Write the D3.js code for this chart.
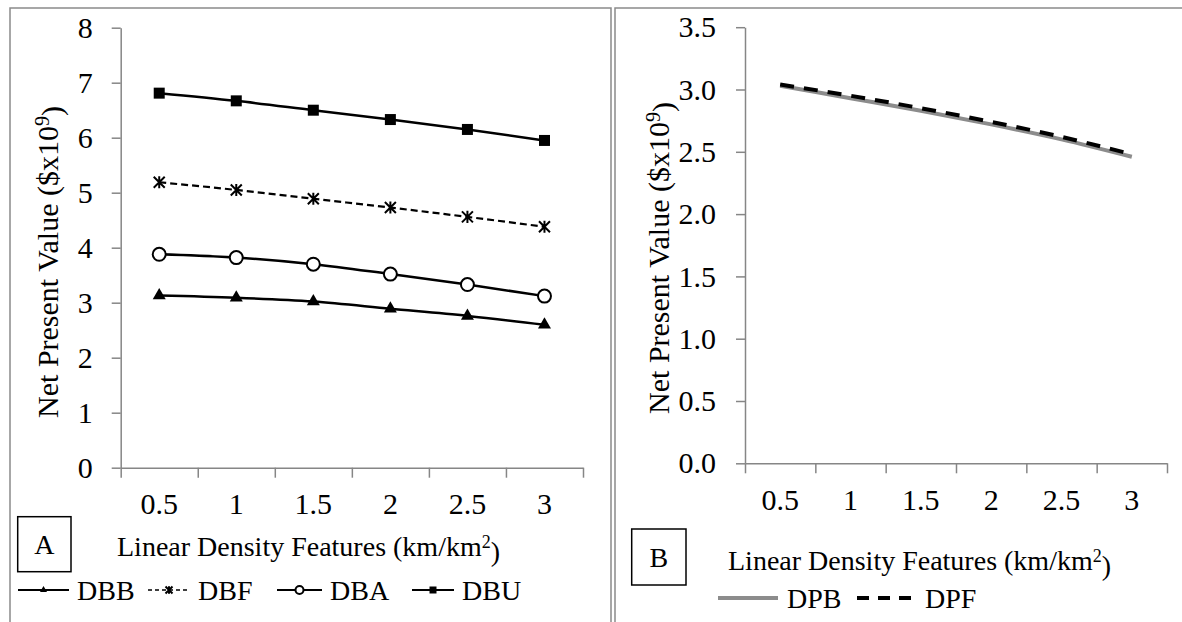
<!DOCTYPE html>
<html>
<head>
<meta charset="utf-8">
<script src="https://d3js.org/d3.v7.min.js"></script>
<style>
    body { margin: 0; background: #fff; }
    svg text { font-family: "Liberation Serif", Tinos, "DejaVu Serif", "Times New Roman", Times, serif; }
</style>
</head>
<body>
<svg id="drawing_region"></svg>
<script>
// data
const categories = ["0.5", "1", "1.5", "2", "2.5", "3"];
const dbb = [3.13, 3.09, 3.02, 2.89, 2.76, 2.60];
const dbf = [5.19, 5.05, 4.89, 4.73, 4.56, 4.38];
const dba = [3.88, 3.82, 3.70, 3.52, 3.33, 3.12];
const dbu = [6.81, 6.67, 6.50, 6.33, 6.15, 5.95];
const dpb = [3.03, 2.93, 2.83, 2.72, 2.60, 2.46];
const dpf = [3.04, 2.95, 2.85, 2.74, 2.62, 2.48];
const yTicksA = [0, 1, 2, 3, 4, 5, 6, 7, 8];
const yTicksB = [0, 0.5, 1, 1.5, 2, 2.5, 3, 3.5];

const axisColor = '#868686';
const serif = '"Liberation Serif", Tinos, "DejaVu Serif", "Times New Roman", Times, serif';

const svg = d3.select('#drawing_region')
    .attr('width', 1182)
    .attr('height', 622)
    .attr('font-family', serif);

// panel frames (double line in the middle)
svg.append('rect').attr('x', 10).attr('y', 8).attr('width', 601).attr('height', 700)
    .attr('fill', 'none').attr('stroke', '#8a8a8a').attr('stroke-width', 1.5);
svg.append('rect').attr('x', 615).attr('y', 8).attr('width', 600).attr('height', 700)
    .attr('fill', 'none').attr('stroke', '#8a8a8a').attr('stroke-width', 1.5);

function drawPanel(cfg) {
    const g = svg.append('g');
    const x = d3.scaleBand().domain(categories).range([cfg.x0, cfg.x1]).padding(0);
    const xi = d3.scaleLinear().domain([0, categories.length]).range([cfg.x0, cfg.x1]);
    const y = d3.scaleLinear().domain([0, cfg.yMax]).range([cfg.yBottom, cfg.yTop]);

    // y axis
    const ya = g.append('g')
        .attr('transform', `translate(${cfg.x0},0)`)
        .call(d3.axisLeft(y).tickValues(cfg.yTicks).tickFormat(cfg.yFormat)
            .tickSize(9).tickSizeOuter(0).tickPadding(cfg.yPad));
    // x axis tick marks at category boundaries
    const xa = g.append('g')
        .attr('transform', `translate(0,${cfg.yBottom})`)
        .call(d3.axisBottom(xi).tickValues(d3.range(categories.length + 1))
            .tickFormat('').tickSize(10).tickSizeOuter(0));
    // x labels at band centers
    const xl = g.append('g')
        .attr('transform', `translate(0,${cfg.yBottom})`)
        .call(d3.axisBottom(x).tickSize(0).tickPadding(25));
    xl.select('.domain').remove();

    [ya, xa].forEach(a => {
        a.select('.domain').attr('stroke', axisColor).attr('stroke-width', 1.5);
        a.selectAll('.tick line').attr('stroke', axisColor).attr('stroke-width', 1.5);
    });
    [ya, xl].forEach(a => {
        a.attr('font-family', serif).attr('font-size', 30);
        a.selectAll('text').attr('fill', '#000');
    });
    xl.selectAll('text').attr('dy', '0.71em');

    // y axis title
    const yt = g.append('text')
        .attr('transform', `translate(${cfg.yTitleX},${cfg.yTitleY}) rotate(-90)`)
        .attr('text-anchor', 'middle')
        .attr('dy', '0.35em')
        .attr('font-size', 30);
    yt.append('tspan').text('Net Present Value ($x10');
    yt.append('tspan').text('9').attr('dy', '-0.45em').attr('font-size', 20);
    yt.append('tspan').text(')').attr('dy', '0.45em');

    // x axis title
    const xt = g.append('text')
        .attr('x', cfg.xTitleX)
        .attr('y', cfg.xTitleY)
        .attr('font-size', 28);
    xt.append('tspan').text('Linear Density Features (km/km');
    xt.append('tspan').text('2').attr('dy', '-0.45em').attr('font-size', 18);
    xt.append('tspan').text(')').attr('dy', '0.45em');

    // panel letter box
    g.append('rect')
        .attr('x', cfg.box[0]).attr('y', cfg.box[1])
        .attr('width', cfg.box[2]).attr('height', cfg.box[3])
        .attr('fill', 'none').attr('stroke', '#000').attr('stroke-width', 1.5);
    g.append('text')
        .attr('x', cfg.box[0] + cfg.box[2] / 2)
        .attr('y', cfg.box[1] + cfg.box[3] / 2)
        .attr('text-anchor', 'middle')
        .attr('dy', '0.35em')
        .attr('font-size', 28)
        .text(cfg.letter);

    return { g, x, y };
}

function markerPath(type, s) {
    if (type === 'square') return d3.symbol(d3.symbolSquare, s * s)();
    if (type === 'triangle') return d3.symbol(d3.symbolTriangle, 0.433 * s * s)();
    if (type === 'star') {
        const h = s / 2;
        return `M${-h},${-h}L${h},${h}M${-h},${h}L${h},${-h}M0,${-h * 1.1}L0,${h * 1.1}`;
    }
    return null;
}

function drawMarker(sel, type, s) {
    if (type === 'circle') {
        sel.append('circle').attr('r', s / 2)
            .attr('fill', '#fff').attr('stroke', '#000').attr('stroke-width', 2);
    } else if (type === 'star') {
        sel.append('path').attr('d', markerPath(type, s))
            .attr('fill', 'none').attr('stroke', '#000').attr('stroke-width', 2);
    } else {
        sel.append('path').attr('d', markerPath(type, s)).attr('fill', '#000');
    }
}

// ---------- Panel A ----------
const A = drawPanel({
    x0: 120.7, x1: 583, yTop: 27.7, yBottom: 467.7, yMax: 8,
    yTicks: yTicksA, yFormat: d3.format('d'), yPad: 19,
    yTitleX: 47, yTitleY: 262,
    xTitleX: 117, xTitleY: 556,
    box: [17.7, 516.7, 53.3, 55], letter: 'A'
});

const seriesA = [
    { name: 'DBB', values: dbb, marker: 'triangle', dash: null },
    { name: 'DBF', values: dbf, marker: 'star', dash: '7,4' },
    { name: 'DBA', values: dba, marker: 'circle', dash: null },
    { name: 'DBU', values: dbu, marker: 'square', dash: null }
];

const lineA = d3.line()
    .x((d, i) => A.x(categories[i]) + A.x.bandwidth() / 2)
    .y(d => A.y(d))
    .curve(d3.curveMonotoneX);

seriesA.forEach(s => {
    A.g.append('path')
        .attr('d', lineA(s.values))
        .attr('fill', 'none')
        .attr('stroke', '#000')
        .attr('stroke-width', s.dash ? 2.2 : 2.5)
        .attr('stroke-dasharray', s.dash);
    s.values.forEach((v, i) => {
        const m = A.g.append('g')
            .attr('transform', `translate(${A.x(categories[i]) + A.x.bandwidth() / 2},${A.y(v)})`);
        drawMarker(m, s.marker, s.marker === 'circle' ? 13 : (s.marker === 'triangle' ? 13 : 11));
    });
});

// legend A
const legA = [
    { x: 18, tx: 77 },
    { x: 148, tx: 198 },
    { x: 277, tx: 330 },
    { x: 412, tx: 462 }
];
seriesA.forEach((s, i) => {
    const lg = svg.append('g').attr('transform', `translate(0,590)`);
    const x0 = legA[i].x, x1 = legA[i].tx - 8;
    lg.append('line')
        .attr('x1', x0).attr('x2', x1).attr('y1', 0).attr('y2', 0)
        .attr('stroke', '#000')
        .attr('stroke-width', s.dash ? 1.5 : 2)
        .attr('stroke-dasharray', s.dash ? '4,3' : null);
    const m = lg.append('g').attr('transform', `translate(${(x0 + x1) / 2},0)`);
    drawMarker(m, s.marker, s.marker === 'circle' ? 8 : 7);
    lg.append('text')
        .attr('x', legA[i].tx).attr('y', 0).attr('dy', '0.35em')
        .attr('font-size', 28)
        .text(s.name);
});

// ---------- Panel B ----------
const B = drawPanel({
    x0: 745, x1: 1167, yTop: 27.2, yBottom: 463.3, yMax: 3.5,
    yTicks: yTicksB, yFormat: d3.format('.1f'), yPad: 20,
    yTitleX: 658, yTitleY: 258,
    xTitleX: 728, xTitleY: 570,
    box: [631.7, 529, 54.3, 56], letter: 'B'
});

const seriesB = [
    { name: 'DPB', values: dpb, color: '#8c8c8c', dash: null },
    { name: 'DPF', values: dpf, color: '#000', dash: '14,10' }
];

const lineB = d3.line()
    .x((d, i) => B.x(categories[i]) + B.x.bandwidth() / 2)
    .y(d => B.y(d))
    .curve(d3.curveMonotoneX);

seriesB.forEach(s => {
    B.g.append('path')
        .attr('d', lineB(s.values))
        .attr('fill', 'none')
        .attr('stroke', s.color)
        .attr('stroke-width', 4)
        .attr('stroke-dasharray', s.dash);
});

// legend B
const legB = [{ x: 718, tx: 787 }, { x: 857, tx: 925 }];
seriesB.forEach((s, i) => {
    const lg = svg.append('g').attr('transform', 'translate(0,598)');
    lg.append('line')
        .attr('x1', legB[i].x).attr('x2', legB[i].tx - 9).attr('y1', 0).attr('y2', 0)
        .attr('stroke', s.color)
        .attr('stroke-width', 4)
        .attr('stroke-dasharray', s.dash ? '12,9' : null);
    lg.append('text')
        .attr('x', legB[i].tx).attr('y', 0).attr('dy', '0.35em')
        .attr('font-size', 28)
        .text(s.name);
});
</script>
</body>
</html>
